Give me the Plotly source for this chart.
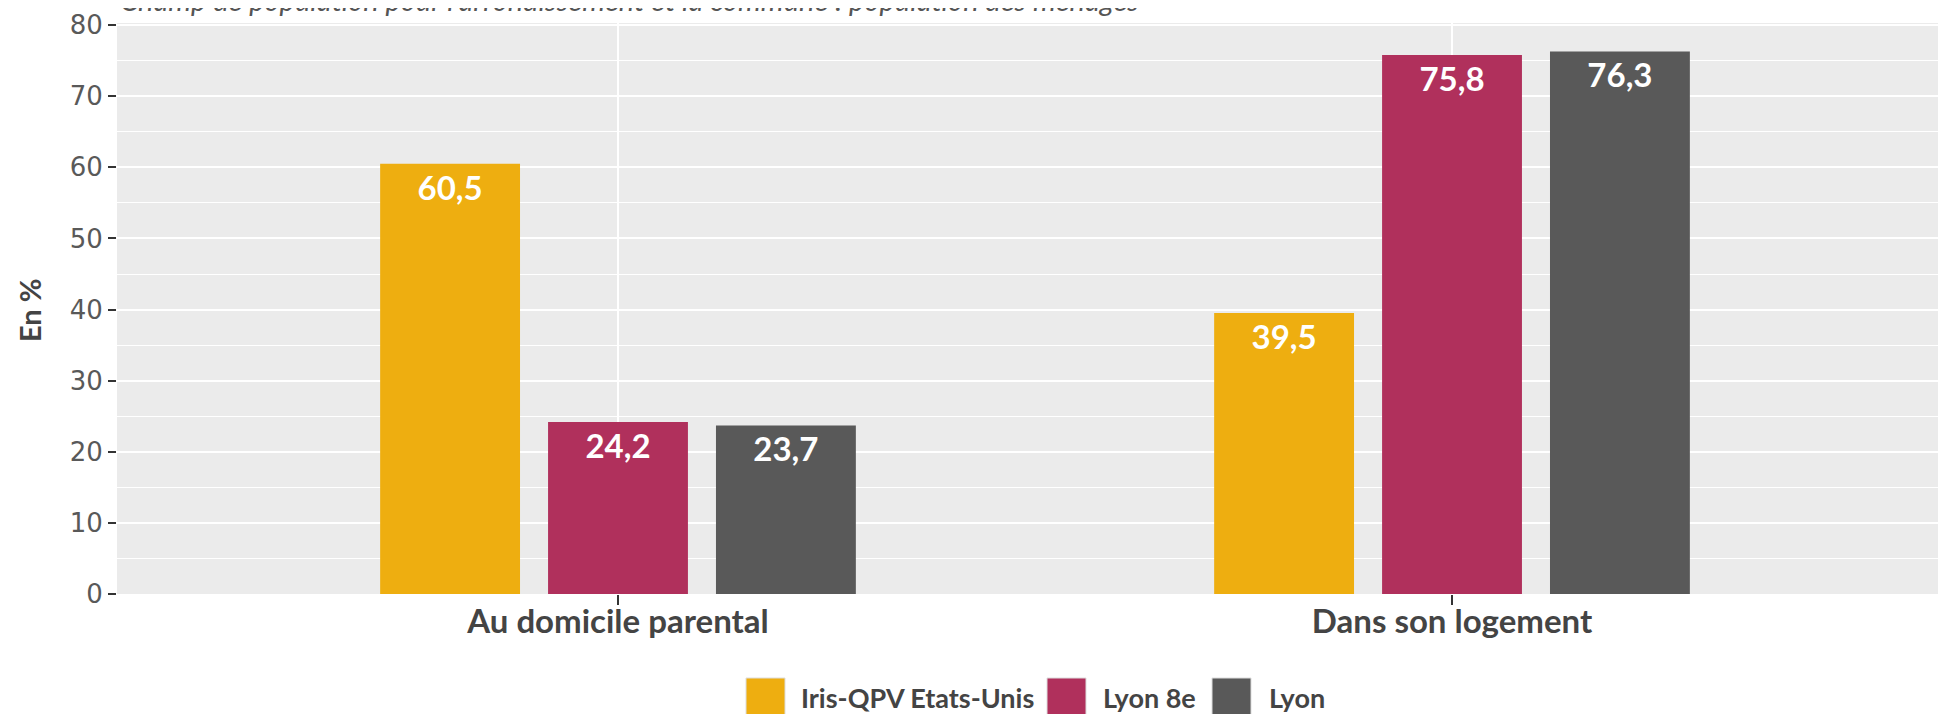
import plotly.graph_objects as go

categories = ["Au domicile parental", "Dans son logement"]
series_names = ["Iris-QPV Etats-Unis", "Lyon 8e", "Lyon"]
iris_values = [60.5, 39.5]
lyon8_values = [24.2, 75.8]
lyon_values = [23.7, 76.3]
y_ticks = [0, 10, 20, 30, 40, 50, 60, 70, 80]
subtitle = "Champ de population pour l'arrondissement et la commune : population des ménages"
y_title = "En %"

colors = ["#EEAE10", "#B0305C", "#595959"]
values = [iris_values, lyon8_values, lyon_values]

W, H = 1946, 714
OFF = 8  # default page body margin
L, R, T, B = 109, 11, 15, 128

fig = go.Figure()
for name, vals, col in zip(series_names, values, colors):
    fig.add_trace(go.Bar(
        x=categories, y=vals, name=name, marker=dict(color=col, line=dict(width=0)),
        texttemplate="%{y:.1f}", textposition="inside", insidetextanchor="end",
        textangle=0, constraintext="none",
        textfont=dict(family="Lato", size=33, color="white", weight="bold"),
        showlegend=False,
    ))

fig.update_layout(
    width=W, height=H, margin=dict(l=L, r=R, t=T, b=B, pad=0),
    paper_bgcolor="white", plot_bgcolor="#EBEBEB",
    barmode="group", bargap=0.396, bargroupgap=0.167,
    separators=", ",
    xaxis=dict(range=[-0.6007, 1.5887], showgrid=True, gridcolor="white", gridwidth=2,
               ticks="outside", ticklen=10, tickwidth=1.5, tickcolor="#333",
               ticklabelstandoff=-12,
               tickfont=dict(family="Lato", size=33, color="#444", weight="bold"),
               zeroline=False, showline=False, automargin=False),
    yaxis=dict(range=[0, 80.3], tickvals=y_ticks, showgrid=True, gridcolor="white", gridwidth=2,
               minor=dict(dtick=5, showgrid=True, gridcolor="white", gridwidth=1.3),
               ticks="outside", ticklen=8, tickwidth=1.5, tickcolor="#333",
               tickfont=dict(family="DejaVu Sans", size=26, color="#595959"),
               zeroline=False, showline=False, automargin=False),
)

ph = H - T - B
pw = W - L - R
def px(X):
    return (X - OFF - L) / pw
def py(Y):
    return (H - B - (Y - OFF)) / ph

fig.add_annotation(text=y_title, xref="paper", yref="paper", x=px(29), y=py(310),
                   xanchor="center", yanchor="middle", textangle=-90, showarrow=False,
                   font=dict(family="Lato", size=29, color="#444", weight="bold"))

fig.add_annotation(text=subtitle, xref="paper", yref="paper", x=px(118), y=py(-1),
                   xanchor="left", yanchor="middle", showarrow=False,
                   font=dict(family="Lato", size=29, color="#555", style="italic"))

# custom legend
legend_box_x = [746, 1047, 1212]
legend_text_x = [799, 1101, 1267]
box_w = 39
for name, col, bx, tx in zip(series_names, colors, legend_box_x, legend_text_x):
    fig.add_shape(type="rect", xref="paper", yref="paper",
                  x0=px(bx), x1=px(bx + box_w), y0=py(678), y1=py(740),
                  fillcolor=col, line=dict(width=1, color="#dddddd"))
    fig.add_annotation(text=name, xref="paper", yref="paper", x=px(tx), y=py(697),
                       xanchor="left", yanchor="middle", showarrow=False,
                       font=dict(family="Lato", size=27, color="#444", weight="bold"))

fig.write_html("out.html")
